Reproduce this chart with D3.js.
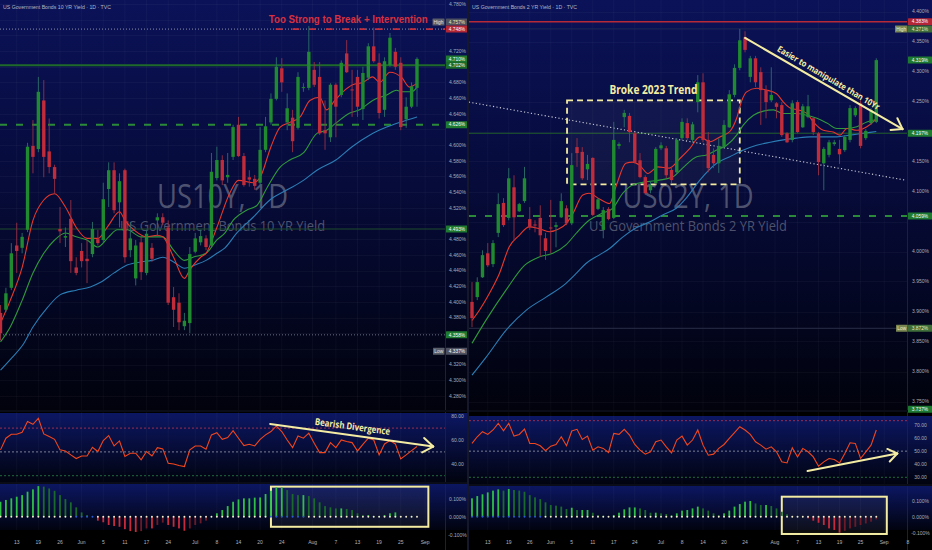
<!DOCTYPE html>
<html><head><meta charset="utf-8">
<script src="https://cdn.jsdelivr.net/npm/d3@7"></script>
<style>html,body{margin:0;padding:0;background:#000;}svg{display:block}</style>
</head><body><svg id="c" width="932" height="550"></svg>
<script>
// ===================== DATA =====================
const dateTickIdxL=[3,7,11,15,19,23,27,31,36,40,44,48,52,57.7,62,66,70,74,78.5];
const dateTickLblL=['13','19','26','Jun','5','11','17','24','Jul','8','14','20','24','Aug','7','13','19','25','Sep'];
const dateTickIdxR=[3,7,11,15,19,23,27,31,36,40,44,48,52,57.7,62,66,70,74,78.5,83];
const dateTickLblR=['13','19','26','Jun','5','11','17','24','Jul','8','14','20','24','Aug','7','13','19','25','Sep','8'];

const priceTicksL=[4.78,4.76,4.74,4.72,4.70,4.68,4.66,4.64,4.62,4.60,4.58,4.56,4.54,4.52,4.50,4.48,4.46,4.44,4.42,4.40,4.38,4.36,4.34,4.32,4.30,4.28];
const priceTicksR=[4.40,4.35,4.30,4.25,4.20,4.15,4.10,4.05,4.00,3.95,3.90,3.85,3.80,3.75];
const rsiTicksL=[80,60,40];
const rsiTicksR=[70,60,50,40,30];
const macdTicks=[0.1,0,-0.1];

// US10Y daily candles
const openL =[4.386,4.390,4.418,4.472,4.469,4.492,4.599,4.595,4.657,4.592,4.572,4.493,4.482,4.506,4.444,4.465,4.455,4.461,4.480,4.479,4.544,4.568,4.527,4.568,4.466,4.430,4.476,4.437,4.469,4.504,4.508,4.495,4.406,4.399,4.369,4.373,4.464,4.476,4.481,4.472,4.558,4.581,4.559,4.585,4.626,4.586,4.559,4.557,4.552,4.594,4.629,4.659,4.698,4.629,4.635,4.622,4.673,4.673,4.696,4.687,4.619,4.610,4.677,4.664,4.717,4.671,4.687,4.646,4.686,4.726,4.705,4.645,4.702,4.719,4.705,4.633,4.649,4.673];
const highL =[4.396,4.418,4.475,4.501,4.488,4.603,4.632,4.687,4.683,4.634,4.575,4.521,4.495,4.530,4.457,4.475,4.479,4.502,4.492,4.552,4.578,4.578,4.564,4.570,4.502,4.479,4.483,4.492,4.475,4.513,4.513,4.504,4.419,4.411,4.386,4.470,4.488,4.492,4.485,4.590,4.598,4.587,4.590,4.626,4.636,4.590,4.568,4.562,4.623,4.636,4.666,4.712,4.711,4.666,4.645,4.693,4.679,4.752,4.706,4.706,4.657,4.679,4.679,4.708,4.734,4.696,4.696,4.700,4.730,4.750,4.717,4.712,4.743,4.724,4.712,4.661,4.680,4.712];
const lowL  =[4.351,4.387,4.415,4.437,4.462,4.489,4.564,4.591,4.559,4.564,4.539,4.475,4.470,4.437,4.434,4.444,4.424,4.457,4.472,4.476,4.521,4.513,4.495,4.450,4.457,4.421,4.428,4.434,4.451,4.483,4.498,4.396,4.368,4.364,4.364,4.360,4.462,4.472,4.466,4.470,4.555,4.549,4.552,4.581,4.585,4.547,4.547,4.543,4.547,4.591,4.626,4.657,4.668,4.619,4.591,4.620,4.668,4.670,4.674,4.613,4.594,4.604,4.610,4.661,4.692,4.636,4.636,4.632,4.683,4.705,4.634,4.636,4.700,4.696,4.619,4.622,4.647,4.649];
const closeL=[4.360,4.411,4.462,4.465,4.483,4.598,4.585,4.668,4.585,4.572,4.557,4.490,4.484,4.452,4.437,4.452,4.452,4.493,4.475,4.531,4.568,4.517,4.554,4.457,4.481,4.472,4.438,4.487,4.455,4.508,4.501,4.399,4.390,4.374,4.376,4.461,4.481,4.484,4.470,4.566,4.581,4.555,4.562,4.623,4.586,4.549,4.556,4.548,4.594,4.624,4.659,4.700,4.680,4.647,4.605,4.687,4.674,4.719,4.677,4.615,4.615,4.677,4.649,4.705,4.693,4.670,4.649,4.692,4.726,4.707,4.641,4.707,4.737,4.700,4.623,4.649,4.675,4.710];
// moving averages [barIndex, value]
const maFastL=[[0,4.373],[1.8,4.402],[4,4.444],[6,4.504],[8,4.530],[10,4.538],[12,4.521],[14,4.495],[16,4.481],[18,4.481],[20,4.498],[22,4.515],[23,4.504],[25,4.490],[27,4.483],[29,4.485],[30,4.483],[32,4.457],[34,4.430],[35,4.441],[37,4.457],[38,4.462],[40,4.495],[42.4,4.539],[44,4.555],[46.7,4.552],[48,4.559],[50,4.598],[51.7,4.623],[53.5,4.629],[55.4,4.636],[57.2,4.657],[59,4.661],[60.3,4.645],[61.8,4.657],[63.3,4.668],[65.1,4.677],[67,4.680],[68.8,4.687],[70.1,4.680],[72,4.693],[74.2,4.686],[75.6,4.674],[77,4.679]];
const maMidL=[[0,4.349],[1.8,4.368],[4,4.402],[6,4.437],[8,4.462],[10,4.479],[12,4.488],[14,4.483],[16,4.479],[18,4.470],[20,4.483],[21.6,4.492],[23.4,4.492],[26,4.483],[28,4.483],[30,4.483],[32,4.466],[34,4.453],[35.6,4.457],[38,4.462],[40,4.479],[41.5,4.488],[43,4.504],[45.5,4.517],[47.4,4.523],[49.3,4.546],[51.7,4.572],[53.5,4.581],[56,4.590],[58.5,4.615],[60.3,4.619],[62,4.628],[64.6,4.641],[66.4,4.645],[68.8,4.657],[71.4,4.664],[73.2,4.670],[74.2,4.668],[76,4.668],[77,4.674]];
const maSlowL=[[0,4.313],[2,4.328],[4.3,4.347],[6,4.368],[8.7,4.393],[11,4.409],[14,4.415],[16.6,4.419],[18.5,4.425],[21,4.437],[23.4,4.447],[26,4.451],[28,4.453],[30,4.457],[32,4.451],[34,4.443],[36.3,4.448],[38,4.453],[40,4.462],[41.5,4.469],[43.7,4.488],[46.7,4.508],[49.8,4.530],[53,4.543],[56,4.555],[58.5,4.568],[62,4.581],[65,4.598],[68.3,4.613],[71.4,4.623],[73.8,4.629],[77,4.636]];
const rsiL=[51.7,61.5,64.8,64.8,66.5,75.5,73.2,78.3,65.1,62.9,60.6,51.7,50.8,47.5,44.4,46.6,46.6,53.9,50.3,59.5,63.7,55,59.2,46.1,48.9,48.9,43.3,50.3,46.6,53.6,52.5,40.5,39.9,38.5,37.7,51.7,55,55,52.2,64.3,66.2,60.6,62,67.9,61.5,55.3,56.4,55,60.6,64.3,67.1,71.8,67.1,60,53.6,63.4,61.5,65.7,57.2,49.4,49.4,57.8,53.6,60,58.7,57.8,50.8,56.4,61.5,60,47.5,56.7,59.5,56.7,44.1,47.5,51.1,54.5];
const histL=[0.083,0.093,0.102,0.111,0.120,0.139,0.152,0.170,0.167,0.157,0.144,0.120,0.098,0.080,0.052,0.024,0.009,0.001,-0.022,-0.031,-0.046,-0.052,-0.056,-0.069,-0.080,-0.085,-0.080,-0.065,-0.065,-0.046,-0.033,-0.046,-0.056,-0.065,-0.078,-0.065,-0.046,-0.037,-0.022,0.001,0.019,0.037,0.059,0.083,0.096,0.102,0.102,0.106,0.107,0.126,0.144,0.163,0.163,0.148,0.126,0.120,0.120,0.115,0.102,0.080,0.059,0.052,0.046,0.046,0.043,0.037,0.019,0.009,0.009,0.004,0.004,0.009,0.019,0.024,0.004,0.001,0.001,0.001];
const squeezeL=[0,0,0,0,0,0,0,0,0,0,0,0,0,0,1,1,1,1,0,0,0,0,0,0,0,0,0,0,0,0,0,0,0,0,0,0,0,0,0,0,0,0,0,0,0,0,0,0,0,0,1,1,1,1,1,1,1,0,0,0,0,0,0,0,0,0,0,0,0,0,0,0,0,0,0,0,0,0];

// US02Y daily candles
const openR =[3.916,3.924,3.957,3.997,3.979,4.031,4.081,4.056,4.107,4.067,4.084,4.054,4.045,4.056,4.022,4.040,4.041,4.057,4.072,4.047,4.174,4.166,4.137,4.156,4.071,4.036,4.071,4.056,4.176,4.224,4.226,4.197,4.152,4.124,4.102,4.114,4.172,4.172,4.136,4.132,4.189,4.214,4.186,4.249,4.282,4.186,4.161,4.147,4.174,4.207,4.261,4.306,4.357,4.291,4.322,4.299,4.269,4.252,4.247,4.244,4.197,4.186,4.249,4.207,4.224,4.222,4.197,4.147,4.161,4.179,4.171,4.169,4.186,4.227,4.247,4.189,4.214,4.216];
const highR =[3.949,3.957,4.002,4.014,4.019,4.097,4.089,4.139,4.127,4.081,4.141,4.074,4.052,4.077,4.031,4.086,4.049,4.097,4.077,4.164,4.189,4.174,4.161,4.157,4.089,4.074,4.074,4.216,4.182,4.236,4.231,4.199,4.164,4.127,4.116,4.174,4.182,4.176,4.141,4.189,4.222,4.222,4.216,4.294,4.297,4.199,4.172,4.189,4.219,4.269,4.312,4.371,4.367,4.326,4.326,4.307,4.277,4.307,4.249,4.249,4.199,4.252,4.252,4.246,4.261,4.224,4.199,4.174,4.186,4.186,4.186,4.194,4.244,4.242,4.252,4.204,4.239,4.322];
const lowR  =[3.874,3.919,3.956,3.974,3.974,4.024,4.041,4.052,4.019,4.066,4.081,4.036,4.032,3.991,3.986,3.997,4.007,4.056,4.044,4.044,4.141,4.119,4.119,4.059,4.069,4.022,4.052,4.054,4.171,4.207,4.182,4.147,4.122,4.094,4.097,4.112,4.169,4.122,4.114,4.129,4.186,4.186,4.182,4.232,4.182,4.132,4.139,4.131,4.172,4.206,4.257,4.302,4.332,4.282,4.274,4.211,4.222,4.249,4.222,4.191,4.181,4.182,4.197,4.206,4.222,4.194,4.127,4.102,4.157,4.176,4.146,4.166,4.182,4.224,4.172,4.186,4.211,4.214];
const closeR=[3.889,3.949,3.994,3.977,4.014,4.079,4.044,4.122,4.057,4.079,4.122,4.041,4.044,4.027,4.001,4.039,4.044,4.084,4.047,4.144,4.164,4.122,4.146,4.061,4.087,4.069,4.054,4.186,4.179,4.231,4.199,4.149,4.124,4.097,4.111,4.171,4.177,4.127,4.119,4.186,4.216,4.189,4.212,4.282,4.186,4.139,4.147,4.176,4.211,4.262,4.306,4.352,4.336,4.322,4.282,4.269,4.249,4.261,4.241,4.194,4.182,4.247,4.199,4.242,4.242,4.199,4.149,4.171,4.182,4.182,4.162,4.191,4.239,4.239,4.176,4.201,4.236,4.319];
const maFastR=[[0,3.885],[1.4,3.902],[3.3,3.930],[5.2,3.963],[7.1,4.008],[9,4.027],[10.9,4.041],[12.8,4.038],[14.7,4.033],[16.6,4.038],[17.9,4.046],[19.2,4.063],[21.1,4.094],[22.3,4.097],[24.2,4.088],[26.2,4.080],[27.4,4.108],[29.3,4.147],[30.6,4.149],[31.9,4.144],[33.5,4.130],[35.4,4.141],[37.6,4.139],[39.6,4.155],[41.5,4.172],[43.4,4.191],[45.3,4.183],[47.2,4.191],[49.1,4.200],[50.4,4.222],[51.4,4.252],[52.3,4.266],[54.2,4.272],[56.1,4.269],[58,4.263],[59.3,4.249],[60.6,4.239],[62.2,4.236],[63.8,4.230],[65,4.216],[66.9,4.202],[68.8,4.199],[70.1,4.194],[71.4,4.205],[73.3,4.202],[75.2,4.208],[76.4,4.216],[77,4.222]];
const maMidR=[[0,3.847],[2.7,3.886],[6.5,3.936],[10,3.977],[12.8,3.991],[15.4,3.997],[17.9,4.011],[19.8,4.030],[22.3,4.052],[24.9,4.064],[26.8,4.072],[28.7,4.097],[30.6,4.111],[33.1,4.116],[35.7,4.119],[38.2,4.124],[40.1,4.139],[42.8,4.158],[44.7,4.161],[46.6,4.169],[48.5,4.177],[50.4,4.194],[51.7,4.211],[53.6,4.227],[55.5,4.234],[57.4,4.236],[59.3,4.230],[61.8,4.230],[63.8,4.227],[65.7,4.222],[67.6,4.214],[69.5,4.205],[71.4,4.205],[73.3,4.208],[75.2,4.216],[77,4.220]];
const maSlowR=[[0,3.794],[2.7,3.824],[6.5,3.869],[10.3,3.902],[14.1,3.924],[17.9,3.947],[19.8,3.963],[21.7,3.980],[24.2,3.994],[26.2,4.005],[28.7,4.024],[31.2,4.039],[33.8,4.049],[36.3,4.061],[38.9,4.072],[40.8,4.089],[43.4,4.119],[46.6,4.147],[49.1,4.158],[51.7,4.169],[54.2,4.177],[56.8,4.182],[59.3,4.186],[61.8,4.189],[64.4,4.191],[66.9,4.191],[69.5,4.191],[72,4.194],[74.5,4.197],[77,4.200]];
const rsiR=[55.9,61,64.9,62.8,66.2,71.3,65.6,71.3,61.5,62.8,66.9,55.9,55.9,54.1,50.3,53.8,55.1,61,54.1,65.4,66.7,59,61.5,50.8,53.3,52.1,49,63.6,62.8,66.7,62.3,55.1,50.8,47.7,49.5,57.2,58.5,53.3,48.7,58.5,61.5,54.6,58.5,66.2,54.6,46.9,47.7,52.1,55.1,59.7,64.1,68.7,66.2,62.8,57.2,54.6,51.5,53.3,49.5,41.8,41,52.6,45.6,52.1,49.5,45.6,38.5,41.8,44.4,43.6,41,48.2,56.4,55.9,44.4,49.5,54.6,66.2];
const histR=[0.115,0.129,0.140,0.152,0.163,0.171,0.163,0.173,0.167,0.163,0.156,0.135,0.121,0.110,0.090,0.073,0.069,0.063,0.048,0.056,0.042,0.042,0.042,0.025,0.010,0.006,0.004,0.010,0.025,0.046,0.058,0.058,0.052,0.042,0.025,0.025,0.021,0.017,0.010,0.021,0.038,0.042,0.052,0.063,0.052,0.038,0.021,0.010,0.021,0.038,0.063,0.079,0.094,0.098,0.083,0.073,0.073,0.067,0.052,0.031,0.015,0.004,0.001,0.001,-0.010,-0.025,-0.038,-0.052,-0.073,-0.083,-0.100,-0.088,-0.073,-0.063,-0.052,-0.042,-0.031,-0.017];
const squeezeR=[1,1,1,1,1,1,1,1,1,1,1,1,1,1,0,0,0,0,0,0,0,0,0,0,0,0,0,0,0,0,0,0,0,0,0,0,0,0,0,0,0,0,0,0,0,0,0,0,0,0,0,0,0,0,0,0,0,0,0,0,0,0,0,0,0,0,0,0,0,0,0,0,0,0,0,0,0,0];

// level lines / labels (values)
const levelsL={resist:4.748,high:4.757,last:4.710,line:4.702,dashed:4.626,thin:4.493,lowLine:4.358,low:4.337};
const levelsR={red:4.383,high:4.371,last:4.319,thin:4.197,dashed:4.059,low:3.872,bottom:3.737};

// ===================== DRAW =====================
const svg=d3.select('#c');
const defs=svg.append('defs');
function vgrad(id,stops){const g=defs.append('linearGradient').attr('id',id).attr('x1',0).attr('y1',0).attr('x2',0).attr('y2',1);
  stops.forEach(s=>g.append('stop').attr('offset',s[0]).attr('stop-color',s[1]));}
vgrad('gMain',[[0,'#0b1258'],[0.45,'#060b3a'],[1,'#01020c']]);
vgrad('gSub',[[0,'#0c1763'],[1,'#01030f']]);
svg.append('rect').attr('width',932).attr('height',550).attr('fill','#000');

const FONT='"Liberation Sans", Arial, sans-serif';
const YEL='#f3eca2';

function arrow(g,x1,y1,x2,y2,arm,ang){
  g.append('line').attr('x1',x1).attr('y1',y1).attr('x2',x2).attr('y2',y2).attr('stroke',YEL).attr('stroke-width',2).attr('stroke-linecap','round');
  const a=Math.atan2(y2-y1,x2-x1);
  [ang,-ang].forEach(d=>{const b=a+Math.PI+d;
    g.append('line').attr('x1',x2).attr('y1',y2).attr('x2',x2+arm*Math.cos(b)).attr('y2',y2+arm*Math.sin(b))
     .attr('stroke',YEL).attr('stroke-width',2).attr('stroke-linecap','round');});
}

function panel(P,D){
  const g=svg.append('g');
  const x=d3.scaleLinear().domain([0,77]).range(P.xr);
  const y=d3.scaleLinear().domain(P.yd).range(P.yr);
  const ry=d3.scaleLinear().domain(P.rd).range(P.rr);
  const my=d3.scaleLinear().domain([-0.1,0.1]).range(P.mr);
  const W=P.ax1-P.x0;
  g.append('rect').attr('x',P.x0).attr('y',0).attr('width',W).attr('height',P.mainBot).attr('fill','url(#gMain)');
  g.append('rect').attr('x',P.x0).attr('y',P.rsiTop).attr('width',W).attr('height',P.rsiBot-P.rsiTop).attr('fill','url(#gSub)');
  g.append('rect').attr('x',P.x0).attr('y',P.macdTop).attr('width',W).attr('height',P.macdBot-P.macdTop).attr('fill','url(#gSub)');
  const mk=(id,y0,y1)=>{defs.append('clipPath').attr('id',id).append('rect').attr('x',P.x0).attr('y',y0).attr('width',P.x1-P.x0).attr('height',y1-y0);return `url(#${id})`;};
  const cMain=mk(P.id+'m',0,P.mainBot), cRsi=mk(P.id+'r',P.rsiTop,P.rsiBot), cMacd=mk(P.id+'h',P.macdTop,P.macdBot+8);
  const grid=g.append('g').attr('stroke','rgba(255,255,255,0.035)').attr('stroke-width',1);
  grid.selectAll('line.v').data(D.dIdx.filter(d=>x(d)<P.x1)).join('line').attr('x1',d=>x(d)).attr('x2',d=>x(d)).attr('y1',0).attr('y2',P.macdBot);
  grid.selectAll('line.h').data(D.pTicks).join('line').attr('x1',P.x0).attr('x2',P.x1).attr('y1',d=>Math.round(y(d))+0.5).attr('y2',d=>Math.round(y(d))+0.5);
  g.append('line').attr('x1',P.x1+0.5).attr('x2',P.x1+0.5).attr('y1',0).attr('y2',P.macdBot+20).attr('stroke','#1b2040');
  [P.mainBot,P.rsiBot].forEach(v=>g.append('line').attr('x1',P.x0).attr('x2',P.ax1).attr('y1',v+1).attr('y2',v+1).attr('stroke','#0a0c18').attr('stroke-width',2));

  g.append('text').attr('x',(P.x0+P.x1)/2).attr('y',208).attr('text-anchor','middle').attr('font-family','"Open Sans",sans-serif')
   .attr('font-size',33).attr('fill','#8d91a0').attr('fill-opacity',0.55).attr('textLength',131).attr('lengthAdjust','spacingAndGlyphs').text(D.wm1);
  g.append('text').attr('x',(P.x0+P.x1)/2).attr('y',231).attr('text-anchor','middle').attr('font-family','"Open Sans",sans-serif')
   .attr('font-size',14).attr('fill','#8d91a0').attr('fill-opacity',0.55).attr('textLength',D.wm2w).attr('lengthAdjust','spacingAndGlyphs').text(D.wm2);
  g.append('text').attr('x',P.x0+3).attr('y',9).attr('font-family',FONT).attr('font-size',5.2).attr('fill','#b4b8c6').text(D.header);

  const main=g.append('g').attr('clip-path',cMain);
  D.drawLevels(main,x,y);
  const ln=d3.line().x(d=>x(d[0])).y(d=>y(d[1])).curve(d3.curveMonotoneX);
  [[D.maSlow,'#2b7db5'],[D.maMid,'#2f9a3c'],[D.maFast,'#e8382c']].forEach(([d,c])=>
    main.append('path').attr('d',ln(d)).attr('fill','none').attr('stroke',c).attr('stroke-width',1.1));
  const idx=d3.range(D.O.length);
  const up=i=>D.C[i]>=D.O[i];
  main.selectAll('line.w').data(idx).join('line').attr('x1',i=>x(i)).attr('x2',i=>x(i)).attr('y1',i=>y(D.H[i])).attr('y2',i=>y(D.L[i]))
    .attr('stroke',i=>up(i)?'#2c6f6a':'#9a3044').attr('stroke-width',0.9);
  main.selectAll('rect.b').data(idx).join('rect').attr('x',i=>x(i)-1.7).attr('width',3.4)
    .attr('y',i=>y(Math.max(D.O[i],D.C[i]))).attr('height',i=>Math.max(1,Math.abs(y(D.O[i])-y(D.C[i]))))
    .attr('fill',i=>up(i)?'#1f8a2f':'#c02c3a');
  D.drawAnno(main,x,y);

  const ax=g.append('g').attr('font-family',FONT).attr('font-size',5).attr('fill','#a9adb9').attr('text-anchor','middle');
  const axc=(P.x1+P.ax1)/2+1;
  const vis=D.pTicks.filter(t=>D.tagVals.every(v=>Math.abs(y(t)-y(v))>7.5));
  ax.selectAll('text').data(vis).join('text').attr('x',axc).attr('y',d=>y(d)+1.8).text(d=>d.toFixed(3)+'%');
  D.drawTags(g,y,axc);

  const rs=g.append('g').attr('clip-path',cRsi);
  D.rsiLevels.forEach(([v,c])=>rs.append('line').attr('x1',P.x0).attr('x2',P.x1).attr('y1',ry(v)).attr('y2',ry(v))
     .attr('stroke',c).attr('stroke-dasharray','2,2').attr('stroke-width',1));
  rs.append('path').attr('d',d3.line().x((d,i)=>x(i)).y(d=>ry(d))(D.rsi)).attr('fill','none').attr('stroke','#f2461d').attr('stroke-width',1.1);
  D.drawRsiAnno(g,x,ry);
  g.append('g').attr('font-family',FONT).attr('font-size',5).attr('fill','#a9adb9').attr('text-anchor','middle')
   .selectAll('text').data(D.rTicks).join('text').attr('x',axc).attr('y',d=>ry(d)+1.8).text(d=>d.toFixed(2));

  const hm=g.append('g').attr('clip-path',cMacd);
  D.drawMacdAnno(hm,x,my);
  hm.selectAll('rect.h').data(D.hist).join('rect').attr('x',(d,i)=>x(i)-0.9).attr('width',1.8)
    .attr('y',d=>my(Math.max(0,d))).attr('height',d=>Math.abs(my(d)-my(0)))
    .attr('fill',(d,i)=>{const p=i>0?D.hist[i-1]:d; if(d>=0) return d>=p?'#2fbf47':'#1a6a2c'; return d<=p?'#c72a3b':'#6d1a28';});
  hm.selectAll('circle').data(D.sq).join('circle').attr('cx',(d,i)=>x(i)).attr('cy',my(0)).attr('r',0.95)
    .attr('fill',d=>d?'#2a5bd0':'#f3efcf');
  g.append('g').attr('font-family',FONT).attr('font-size',5).attr('fill','#a9adb9').attr('text-anchor','middle')
   .selectAll('text').data(macdTicks).join('text').attr('x',axc).attr('y',d=>my(d)+1.8).text(d=>d.toFixed(3)+'%');

  g.append('g').attr('font-family',FONT).attr('font-size',5).attr('fill','#b2b5be').attr('text-anchor','middle')
   .selectAll('text').data(D.dIdx).join('text').attr('x',d=>x(d)).attr('y',544).text((d,i)=>D.dLbl[i]);
}

function tag(g,yv,txt,bg,fg,x0,w){
  g.append('rect').attr('x',x0).attr('y',yv-3.5).attr('width',w).attr('height',7).attr('fill',bg).attr('rx',0.5);
  g.append('text').attr('x',x0+w/2).attr('y',yv+1.7).attr('text-anchor','middle').attr('font-family',FONT).attr('font-size',4.8).attr('fill',fg).text(txt);
}

// ----- LEFT: US10Y -----
const PL={id:'L',x0:0,x1:445,ax1:468,xr:[0.5,417],yd:[4.28,4.78],yr:[396,4],rd:[40,80],rr:[463.8,416.2],mr:[534.7,498.7],
  mainBot:410,rsiTop:413,rsiBot:482,macdTop:483,macdBot:530};
panel(PL,{
  O:openL,H:highL,L:lowL,C:closeL,maFast:maFastL,maMid:maMidL,maSlow:maSlowL,rsi:rsiL,hist:histL,sq:squeezeL,
  dIdx:dateTickIdxL,dLbl:dateTickLblL,pTicks:priceTicksL,rTicks:rsiTicksL,
  tagVals:[levelsL.high,levelsL.resist,levelsL.last,levelsL.line,levelsL.dashed,levelsL.thin,levelsL.lowLine,levelsL.low],
  wm1:'US10Y, 1D',wm2:'US Government Bonds 10 YR Yield',wm2w:205,header:'US Government Bonds 10 YR Yield · 1D · TVC',
  rsiLevels:[[70,'#9c2c4a'],[50,'#7a7f93'],[30,'#1f6b3a']],
  drawLevels:(g,x,y)=>{
    g.append('line').attr('x1',0).attr('x2',445).attr('y1',y(levelsL.resist)).attr('y2',y(levelsL.resist)).attr('stroke','#8a90a6').attr('stroke-dasharray','1,2');
    g.append('line').attr('x1',0).attr('x2',445).attr('y1',y(levelsL.line)).attr('y2',y(levelsL.line)).attr('stroke','#1e6a2a').attr('stroke-width',2);
    g.append('line').attr('x1',0).attr('x2',445).attr('y1',y(levelsL.dashed)).attr('y2',y(levelsL.dashed)).attr('stroke','#2a8a3a').attr('stroke-width',2).attr('stroke-dasharray','7,9');
    g.append('line').attr('x1',0).attr('x2',445).attr('y1',y(levelsL.thin)).attr('y2',y(levelsL.thin)).attr('stroke','#1d4d2a').attr('stroke-width',1);
    g.append('line').attr('x1',0).attr('x2',445).attr('y1',y(levelsL.lowLine)).attr('y2',y(levelsL.lowLine)).attr('stroke','#6a7085').attr('stroke-dasharray','1,2');
  },
  drawAnno:(g,x,y)=>{
    g.append('line').attr('x1',x(50.9)).attr('x2',445).attr('y1',y(levelsL.resist)).attr('y2',y(levelsL.resist)).attr('stroke','#c2303f').attr('stroke-width',1.6).attr('stroke-dasharray','6.7,10');
    g.append('text').attr('transform',`translate(${x(49.6)},${y(4.756)}) scale(1,1.2)`).attr('font-family',FONT).attr('font-weight',700).attr('font-size',9.7)
      .attr('fill','#d8303f').text('Too Strong to Break + Intervention');
  },
  drawTags:(g,y,axc)=>{
    tag(g,y(levelsL.high),'High','#5a5d6a','#e3e3e3',432.5,12);
    tag(g,y(levelsL.high),levelsL.high.toFixed(3)+'%','#4d5060','#f1eab0',446,22);
    tag(g,y(levelsL.resist),levelsL.resist.toFixed(3)+'%','#b22636','#ffffff',446,22);
    tag(g,y(levelsL.last),levelsL.last.toFixed(3)+'%','#1e7a30','#ffffff',446,22);
    tag(g,y(levelsL.line),levelsL.line.toFixed(3)+'%','#1a6a2a','#ffffff',446,22);
    tag(g,y(levelsL.dashed),levelsL.dashed.toFixed(3)+'%','#1e7a30','#ffffff',446,22);
    tag(g,y(levelsL.thin),levelsL.thin.toFixed(3)+'%','#1e7a30','#ffffff',446,22);
    tag(g,y(levelsL.lowLine),levelsL.lowLine.toFixed(3)+'%','#1e7a30','#ffffff',446,22);
    tag(g,y(levelsL.low),'Low','#5a5d6a','#e3e3e3',433,11.5);
    tag(g,y(levelsL.low),levelsL.low.toFixed(3)+'%','#4d5060','#ffffff',446,22);
  },
  drawRsiAnno:(g,x,ry)=>{
    arrow(g,x(49.85),ry(73.5),x(80.0),ry(54.5),12.5,0.62);
    const cx=x(65),cy=ry(70.6);
    g.append('text').attr('transform',`translate(${cx},${cy+2.5}) rotate(7.7)`).attr('text-anchor','middle').attr('font-family','"Open Sans",sans-serif')
      .attr('font-weight',700).attr('font-size',9.5).attr('fill',YEL).attr('textLength',76).attr('lengthAdjust','spacingAndGlyphs').text('Bearish Divergence');
  },
  drawMacdAnno:(g,x,my)=>{
    g.append('rect').attr('x',x(50)).attr('y',my(0.167)).attr('width',x(79.1)-x(50)).attr('height',my(-0.056)-my(0.167))
      .attr('fill','rgba(255,255,255,0.05)').attr('stroke',YEL).attr('stroke-width',2);
  }
});

// ----- RIGHT: US02Y -----
const PR={id:'R',x0:469,x1:907,ax1:932,xr:[472,876.3],yd:[3.75,4.40],yr:[401.5,11.5],rd:[30,70],rr:[477.3,425],mr:[532.7,500.7],
  mainBot:410,rsiTop:416,rsiBot:484,macdTop:485,macdBot:530};
panel(PR,{
  O:openR,H:highR,L:lowR,C:closeR,maFast:maFastR,maMid:maMidR,maSlow:maSlowR,rsi:rsiR,hist:histR,sq:squeezeR,
  dIdx:dateTickIdxR,dLbl:dateTickLblR,pTicks:priceTicksR,rTicks:rsiTicksR,
  tagVals:[levelsR.red,levelsR.high,levelsR.last,levelsR.thin,levelsR.dashed,levelsR.low,levelsR.bottom],
  wm1:'US02Y, 1D',wm2:'US Government Bonds 2 YR Yield',wm2w:198,header:'US Government Bonds 2 YR Yield · 1D · TVC',
  rsiLevels:[[73.3,'#9c2c4a'],[50,'#7a7f93'],[30,'#1f6b3a']],
  drawLevels:(g,x,y)=>{
    g.append('line').attr('x1',469).attr('x2',907).attr('y1',y(levelsR.red)).attr('y2',y(levelsR.red)).attr('stroke','#b52a36').attr('stroke-width',1.6);
    g.append('line').attr('x1',469).attr('x2',907).attr('y1',y(levelsR.high)).attr('y2',y(levelsR.high)).attr('stroke','#1f2a55').attr('stroke-width',1);
    g.append('line').attr('x1',469).attr('x2',907).attr('y1',y(levelsR.thin)).attr('y2',y(levelsR.thin)).attr('stroke','#1f5a2c').attr('stroke-width',1);
    g.append('line').attr('x1',469).attr('x2',907).attr('y1',y(levelsR.dashed)).attr('y2',y(levelsR.dashed)).attr('stroke','#2a8a3a').attr('stroke-width',2).attr('stroke-dasharray','7,9');
    g.append('line').attr('x1',469).attr('x2',907).attr('y1',y(levelsR.low)).attr('y2',y(levelsR.low)).attr('stroke','#2a2f48').attr('stroke-width',1);
    g.append('line').attr('x1',x(-0.6)).attr('y1',y(4.249)).attr('x2',x(82.5)).attr('y2',y(4.119)).attr('stroke','#c9cbd6').attr('stroke-width',1.1).attr('stroke-dasharray','1.2,2.3');
    g.append('rect').attr('x',x(18.1)).attr('y',y(4.252)).attr('width',x(51)-x(18.1)).attr('height',y(4.112)-y(4.252))
      .attr('fill','rgba(255,255,255,0.045)').attr('stroke',YEL).attr('stroke-width',1.8).attr('stroke-dasharray','6,4');
  },
  drawAnno:(g,x,y)=>{
    g.append('text').attr('x',(x(18.1)+x(51))/2).attr('y',y(4.262)).attr('text-anchor','middle').attr('font-family','"Open Sans",sans-serif')
      .attr('font-weight',700).attr('font-size',11.5).attr('fill',YEL).attr('textLength',88).attr('lengthAdjust','spacingAndGlyphs').text('Broke 2023 Trend');
    arrow(g,x(52.0),y(4.356),x(82.0),y(4.204),12,0.6);
    const cx=x(67.6),cy=y(4.290);
    g.append('text').attr('transform',`translate(${cx},${cy+3}) rotate(30.5)`).attr('text-anchor','middle').attr('font-family','"Open Sans",sans-serif')
      .attr('font-weight',700).attr('font-size',8.8).attr('fill',YEL).attr('textLength',117).attr('lengthAdjust','spacingAndGlyphs').text('Easier to manipulate than 10Yr');
  },
  drawTags:(g,y,axc)=>{
    tag(g,y(levelsR.red),levelsR.red.toFixed(3)+'%','#b22636','#ffffff',908,24);
    tag(g,y(levelsR.high),'High','#7a8752','#f0f0d0',895,12.5);
    tag(g,y(levelsR.high),levelsR.high.toFixed(3)+'%','#3f6e3a','#f1eab0',908,24);
    tag(g,y(levelsR.last),levelsR.last.toFixed(3)+'%','#1e7a30','#ffffff',908,24);
    tag(g,y(levelsR.thin),levelsR.thin.toFixed(3)+'%','#1e7a30','#ffffff',908,24);
    tag(g,y(levelsR.dashed),levelsR.dashed.toFixed(3)+'%','#1e7a30','#ffffff',908,24);
    tag(g,y(levelsR.low),'Low','#7a8752','#f0f0d0',896,11.5);
    tag(g,y(levelsR.low),levelsR.low.toFixed(3)+'%','#3f6e3a','#f1eab0',908,24);
    tag(g,y(levelsR.bottom),levelsR.bottom.toFixed(3)+'%','#1e7a30','#ffffff',908,24);
  },
  drawRsiAnno:(g,x,ry)=>{
    arrow(g,x(63.9),ry(34.8),x(81.0),ry(48.2),11,0.62);
  },
  drawMacdAnno:(g,x,my)=>{
    g.append('rect').attr('x',x(59)).attr('y',my(0.125)).attr('width',x(79)-x(59)).attr('height',my(-0.108)-my(0.125))
      .attr('fill','rgba(255,255,255,0.05)').attr('stroke',YEL).attr('stroke-width',2);
  }
});
svg.append('rect').attr('x',467).attr('y',0).attr('width',2).attr('height',550).attr('fill','#14182a');
</script></body></html>
